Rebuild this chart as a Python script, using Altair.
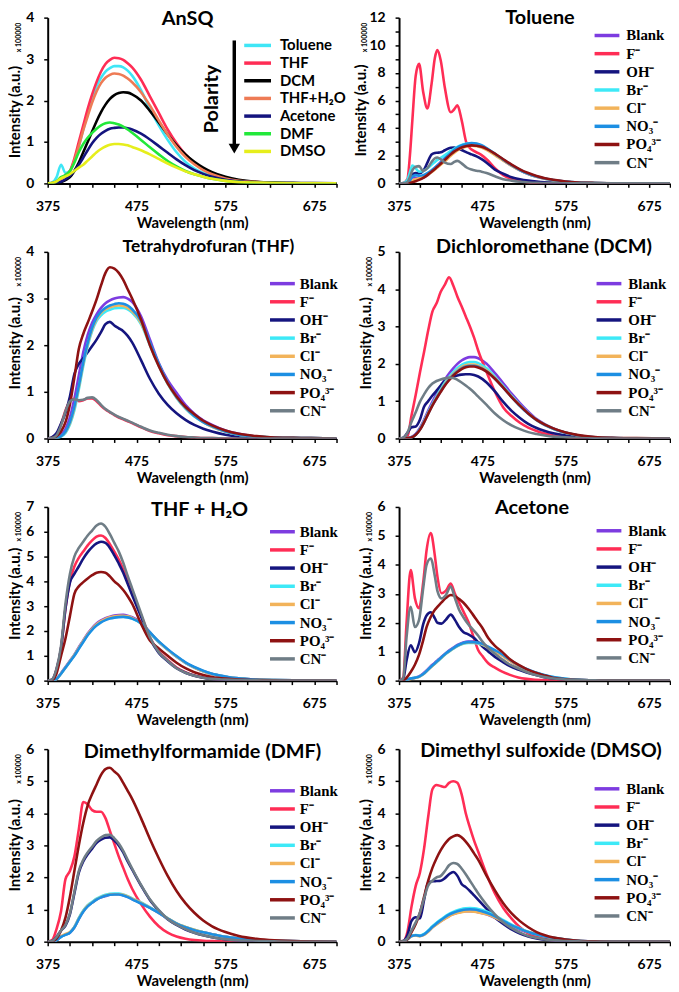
import altair as alt
import pandas as pd

# ---------------- wavelength grids (nm) ----------------
WL = [375, 380, 385, 390, 395, 400, 405, 410, 415, 420, 425, 430, 435, 440, 445, 450,
      455, 460, 465, 470, 480, 490, 500, 510, 520, 530, 540, 550, 560, 575, 590, 610,
      630, 660, 700]
WL_TOLUENE = [375, 380, 385, 388, 391, 395, 399, 404, 409, 414, 418, 421, 425, 430, 437,
              441, 445, 450, 456, 462, 468, 474, 480, 490, 500, 510, 520, 530, 540, 550,
              560, 575, 590, 610, 630, 660, 700]
WL_ACETONE = [375, 380, 384, 389, 394, 399, 404, 408, 413, 418, 421, 426, 431, 437, 442,
              447, 452, 458, 465, 470, 475, 482, 490, 498, 508, 518, 528, 538, 548, 558,
              575, 590, 610, 630, 660, 700]

# ---------------- series names / colours ----------------
SOLVENTS = ["Toluene", "THF", "DCM", "THF+H₂O", "Acetone", "DMF", "DMSO"]
SOLVENT_COLORS = ["#3FE6F6", "#FF2D55", "#000000", "#EE7B55", "#14147E", "#22E83A", "#E6EE1C"]
ANIONS = ["Blank", "F⁻", "OH⁻", "Br⁻", "Cl⁻", "NO₃⁻", "PO₄³⁻", "CN⁻"]
ANION_COLORS = ["#7D3CE0", "#FF2D55", "#15157F", "#3DE9F7", "#F2B35A", "#1C8FE3", "#8E1212", "#6F7D86"]

# ---------------- AnSQ in solvents (x 1e5) ----------------
ansq_toluene = [0, 0.02, 0.15, 0.45, 0.25, 0.3, 0.55, 0.9, 1.3, 1.7, 2.05, 2.35, 2.55, 2.7, 2.78, 2.83, 2.83, 2.8, 2.72, 2.6, 2.25, 1.8, 1.4, 1.05, 0.75, 0.52, 0.36, 0.25, 0.17, 0.09, 0.05, 0.02, 0.01, 0, 0]
ansq_thf = [0, 0.01, 0.05, 0.12, 0.2, 0.3, 0.6, 1.0, 1.4, 1.8, 2.15, 2.45, 2.7, 2.88, 2.98, 3.03, 3.02, 2.98, 2.9, 2.8, 2.5, 2.1, 1.7, 1.3, 0.97, 0.7, 0.5, 0.35, 0.24, 0.13, 0.07, 0.03, 0.01, 0, 0]
ansq_dcm = [0, 0, 0.01, 0.03, 0.08, 0.15, 0.3, 0.5, 0.75, 1.0, 1.25, 1.5, 1.72, 1.9, 2.04, 2.13, 2.18, 2.2, 2.19, 2.15, 2.0, 1.75, 1.47, 1.18, 0.92, 0.7, 0.52, 0.38, 0.27, 0.16, 0.09, 0.04, 0.02, 0.01, 0]
ansq_thf_h2o = [0, 0.01, 0.04, 0.1, 0.18, 0.28, 0.55, 0.9, 1.28, 1.62, 1.95, 2.22, 2.42, 2.55, 2.62, 2.65, 2.64, 2.6, 2.53, 2.44, 2.2, 1.88, 1.52, 1.18, 0.88, 0.64, 0.46, 0.32, 0.22, 0.12, 0.06, 0.03, 0.01, 0, 0]
ansq_acetone = [0, 0, 0.01, 0.04, 0.1, 0.18, 0.3, 0.45, 0.62, 0.8, 0.97, 1.1, 1.2, 1.27, 1.32, 1.34, 1.35, 1.35, 1.33, 1.3, 1.2, 1.06, 0.9, 0.74, 0.58, 0.44, 0.32, 0.23, 0.16, 0.09, 0.05, 0.02, 0.01, 0, 0]
ansq_dmf = [0, 0.01, 0.05, 0.15, 0.2, 0.3, 0.5, 0.75, 0.95, 1.1, 1.22, 1.32, 1.4, 1.45, 1.47, 1.45, 1.42, 1.37, 1.3, 1.22, 1.05, 0.87, 0.7, 0.54, 0.41, 0.3, 0.22, 0.16, 0.11, 0.06, 0.03, 0.01, 0.01, 0, 0]
ansq_dmso = [0, 0.01, 0.05, 0.12, 0.17, 0.22, 0.3, 0.38, 0.45, 0.55, 0.65, 0.75, 0.83, 0.89, 0.93, 0.95, 0.95, 0.94, 0.92, 0.88, 0.8, 0.7, 0.59, 0.48, 0.38, 0.29, 0.22, 0.16, 0.11, 0.06, 0.03, 0.02, 0.01, 0, 0]

# ---------------- Toluene + anions ----------------
tol_blank = [0, 0, 0.05, 0.2, 0.45, 0.4, 0.35, 0.4, 0.6, 0.85, 1.1, 1.3, 1.55, 1.85, 2.25, 2.45, 2.6, 2.75, 2.85, 2.88, 2.82, 2.7, 2.5, 2.1, 1.68, 1.28, 0.95, 0.68, 0.48, 0.33, 0.22, 0.12, 0.06, 0.02, 0.01, 0, 0]
tol_f = [0, 0.03, 0.3, 2.0, 4.6, 7.8, 8.65, 6.6, 5.42, 7.2, 9.1, 9.65, 8.9, 6.9, 5.15, 5.35, 5.65, 4.6, 2.9, 2.45, 2.25, 2.05, 1.75, 1.1, 0.6, 0.32, 0.15, 0.07, 0.03, 0.02, 0.01, 0, 0, 0, 0, 0, 0]
tol_oh = [0, 0.01, 0.1, 0.35, 0.65, 0.75, 0.72, 0.9, 1.5, 2.1, 2.2, 2.22, 2.25, 2.4, 2.58, 2.6, 2.52, 2.42, 2.25, 2.1, 1.95, 1.75, 1.5, 1.0, 0.7, 0.45, 0.3, 0.2, 0.13, 0.08, 0.05, 0.02, 0.01, 0, 0, 0, 0]
tol_br = [0, 0.02, 0.25, 0.8, 1.3, 1.1, 0.85, 0.9, 1.1, 1.35, 1.55, 1.7, 1.85, 2.05, 2.35, 2.5, 2.65, 2.78, 2.88, 2.9, 2.85, 2.72, 2.52, 2.12, 1.7, 1.3, 0.96, 0.69, 0.49, 0.34, 0.23, 0.12, 0.06, 0.02, 0.01, 0, 0]
tol_cl = [0, 0, 0.03, 0.1, 0.2, 0.3, 0.35, 0.45, 0.6, 0.8, 1.0, 1.15, 1.35, 1.6, 2.0, 2.2, 2.38, 2.55, 2.68, 2.72, 2.7, 2.6, 2.43, 2.05, 1.65, 1.27, 0.94, 0.68, 0.48, 0.33, 0.22, 0.12, 0.06, 0.02, 0.01, 0, 0]
tol_no3 = [0, 0, 0.05, 0.2, 0.5, 0.6, 0.55, 0.6, 0.75, 0.95, 1.15, 1.3, 1.5, 1.8, 2.2, 2.42, 2.6, 2.75, 2.86, 2.92, 2.88, 2.76, 2.56, 2.15, 1.72, 1.32, 0.97, 0.7, 0.5, 0.35, 0.24, 0.13, 0.06, 0.02, 0.01, 0, 0]
tol_po4 = [0, 0, 0.01, 0.03, 0.08, 0.15, 0.25, 0.4, 0.6, 0.85, 1.05, 1.2, 1.42, 1.7, 2.1, 2.3, 2.45, 2.6, 2.7, 2.75, 2.73, 2.65, 2.5, 2.15, 1.75, 1.36, 1.02, 0.75, 0.54, 0.38, 0.26, 0.14, 0.07, 0.03, 0.01, 0, 0]
tol_cn = [0, 0.01, 0.1, 0.45, 0.95, 1.2, 1.25, 0.9, 1.1, 1.55, 1.82, 1.88, 1.75, 1.5, 1.4, 1.55, 1.63, 1.45, 1.15, 1.0, 0.92, 0.85, 0.75, 0.52, 0.3, 0.2, 0.12, 0.07, 0.04, 0.03, 0.02, 0.01, 0, 0, 0, 0, 0]

# ---------------- THF + anions ----------------
thf_blank = [0, 0.01, 0.03, 0.08, 0.2, 0.45, 0.85, 1.35, 1.85, 2.22, 2.48, 2.66, 2.8, 2.9, 2.96, 3.0, 3.02, 3.03, 3.0, 2.93, 2.62, 2.12, 1.62, 1.25, 0.98, 0.72, 0.53, 0.39, 0.29, 0.17, 0.1, 0.04, 0.02, 0.01, 0]
thf_f = [0, 0.01, 0.08, 0.3, 0.6, 0.8, 0.85, 0.8, 0.82, 0.86, 0.86, 0.8, 0.7, 0.62, 0.56, 0.5, 0.45, 0.41, 0.37, 0.33, 0.24, 0.16, 0.11, 0.07, 0.05, 0.03, 0.02, 0.01, 0.01, 0, 0, 0, 0, 0, 0]
thf_oh = [0, 0.03, 0.12, 0.32, 0.55, 0.9, 1.38, 1.6, 1.72, 1.85, 1.98, 2.12, 2.28, 2.45, 2.5, 2.42, 2.36, 2.3, 2.2, 2.06, 1.68, 1.28, 0.96, 0.72, 0.54, 0.4, 0.29, 0.21, 0.15, 0.08, 0.04, 0.02, 0.01, 0, 0]
thf_br = [0, 0, 0.01, 0.04, 0.12, 0.3, 0.6, 1.05, 1.55, 1.98, 2.3, 2.52, 2.64, 2.72, 2.76, 2.79, 2.8, 2.8, 2.77, 2.7, 2.45, 2.0, 1.56, 1.17, 0.87, 0.64, 0.47, 0.35, 0.25, 0.15, 0.08, 0.04, 0.02, 0.01, 0]
thf_cl = [0, 0, 0.01, 0.05, 0.14, 0.33, 0.65, 1.1, 1.6, 2.02, 2.34, 2.56, 2.69, 2.77, 2.81, 2.84, 2.85, 2.84, 2.8, 2.73, 2.48, 2.03, 1.58, 1.18, 0.88, 0.65, 0.48, 0.35, 0.25, 0.15, 0.08, 0.04, 0.02, 0.01, 0]
thf_no3 = [0, 0, 0.01, 0.05, 0.15, 0.35, 0.68, 1.13, 1.63, 2.05, 2.37, 2.59, 2.72, 2.8, 2.85, 2.88, 2.9, 2.89, 2.85, 2.77, 2.52, 2.06, 1.6, 1.2, 0.89, 0.66, 0.48, 0.35, 0.26, 0.15, 0.08, 0.04, 0.02, 0.01, 0]
thf_po4 = [0, 0.01, 0.05, 0.15, 0.35, 0.73, 1.3, 1.92, 2.24, 2.48, 2.72, 2.98, 3.28, 3.55, 3.67, 3.64, 3.55, 3.4, 3.2, 3.0, 2.55, 2.0, 1.55, 1.18, 0.9, 0.68, 0.52, 0.38, 0.28, 0.17, 0.1, 0.05, 0.02, 0.01, 0]
thf_cn = [0, 0.01, 0.07, 0.28, 0.58, 0.8, 0.84, 0.82, 0.83, 0.87, 0.88, 0.82, 0.72, 0.63, 0.57, 0.51, 0.46, 0.42, 0.38, 0.34, 0.25, 0.17, 0.12, 0.08, 0.05, 0.03, 0.02, 0.01, 0.01, 0, 0, 0, 0, 0, 0]

# ---------------- DCM + anions ----------------
dcm_blank = [0, 0, 0.01, 0.04, 0.12, 0.28, 0.5, 0.75, 0.98, 1.2, 1.4, 1.58, 1.74, 1.88, 2.0, 2.09, 2.15, 2.18, 2.18, 2.15, 2.0, 1.75, 1.48, 1.2, 0.95, 0.72, 0.52, 0.38, 0.27, 0.15, 0.08, 0.03, 0.01, 0, 0]
dcm_f = [0, 0, 0.05, 0.62, 1.17, 1.76, 2.32, 2.9, 3.4, 3.62, 3.93, 4.12, 4.32, 4.1, 3.8, 3.54, 3.27, 3.0, 2.7, 2.35, 1.78, 1.25, 0.83, 0.6, 0.42, 0.29, 0.2, 0.13, 0.08, 0.04, 0.02, 0.01, 0, 0, 0]
dcm_oh = [0, 0.02, 0.15, 0.3, 0.32, 0.5, 0.85, 1.0, 1.15, 1.28, 1.42, 1.55, 1.62, 1.66, 1.69, 1.71, 1.72, 1.72, 1.7, 1.66, 1.5, 1.26, 0.98, 0.74, 0.55, 0.39, 0.28, 0.2, 0.14, 0.08, 0.04, 0.02, 0.01, 0, 0]
dcm_br = [0, 0, 0.01, 0.03, 0.1, 0.25, 0.46, 0.7, 0.92, 1.13, 1.32, 1.5, 1.65, 1.78, 1.89, 1.97, 2.02, 2.05, 2.05, 2.02, 1.88, 1.65, 1.4, 1.14, 0.9, 0.68, 0.5, 0.37, 0.26, 0.15, 0.08, 0.03, 0.01, 0, 0]
dcm_cl = [0, 0, 0.01, 0.03, 0.1, 0.24, 0.45, 0.68, 0.9, 1.1, 1.29, 1.46, 1.61, 1.73, 1.83, 1.91, 1.96, 1.98, 1.98, 1.95, 1.83, 1.62, 1.37, 1.12, 0.88, 0.67, 0.49, 0.36, 0.26, 0.15, 0.08, 0.03, 0.01, 0, 0]
dcm_no3 = [0, 0, 0.01, 0.03, 0.1, 0.24, 0.44, 0.67, 0.89, 1.08, 1.27, 1.44, 1.58, 1.7, 1.8, 1.88, 1.93, 1.95, 1.95, 1.92, 1.8, 1.6, 1.36, 1.11, 0.87, 0.66, 0.49, 0.36, 0.26, 0.15, 0.08, 0.03, 0.01, 0, 0]
dcm_po4 = [0, 0, 0.01, 0.03, 0.1, 0.23, 0.43, 0.66, 0.88, 1.07, 1.25, 1.42, 1.56, 1.68, 1.78, 1.86, 1.91, 1.93, 1.93, 1.9, 1.79, 1.6, 1.36, 1.11, 0.88, 0.67, 0.5, 0.37, 0.27, 0.16, 0.09, 0.04, 0.02, 0.01, 0]
dcm_cn = [0, 0.02, 0.15, 0.45, 0.7, 0.98, 1.18, 1.35, 1.47, 1.54, 1.58, 1.61, 1.63, 1.62, 1.57, 1.5, 1.42, 1.33, 1.23, 1.12, 0.9, 0.67, 0.49, 0.35, 0.25, 0.17, 0.12, 0.08, 0.05, 0.03, 0.01, 0, 0, 0, 0]

# ---------------- THF + H2O + anions ----------------
aq_blank = [0, 0.01, 0.08, 0.3, 0.55, 0.8, 1.05, 1.35, 1.62, 1.9, 2.12, 2.3, 2.43, 2.52, 2.58, 2.62, 2.64, 2.65, 2.62, 2.56, 2.35, 1.95, 1.55, 1.25, 0.96, 0.72, 0.53, 0.38, 0.27, 0.16, 0.09, 0.04, 0.02, 0.01, 0]
aq_f = [0, 0.04, 0.45, 1.3, 2.9, 4.0, 4.6, 4.95, 5.2, 5.45, 5.65, 5.8, 5.85, 5.75, 5.5, 5.2, 4.88, 4.48, 4.0, 3.55, 2.65, 1.75, 1.18, 0.83, 0.53, 0.34, 0.21, 0.13, 0.08, 0.04, 0.02, 0.01, 0, 0, 0]
aq_oh = [0, 0.04, 0.45, 1.3, 2.9, 3.95, 4.3, 4.6, 4.92, 5.18, 5.38, 5.53, 5.6, 5.55, 5.35, 5.05, 4.72, 4.35, 3.9, 3.45, 2.58, 1.7, 1.12, 0.78, 0.5, 0.32, 0.2, 0.12, 0.07, 0.04, 0.02, 0.01, 0, 0, 0]
aq_br = [0, 0.01, 0.07, 0.28, 0.52, 0.77, 1.02, 1.3, 1.58, 1.85, 2.07, 2.24, 2.37, 2.46, 2.52, 2.56, 2.58, 2.58, 2.56, 2.5, 2.3, 1.92, 1.55, 1.24, 0.96, 0.72, 0.53, 0.38, 0.27, 0.16, 0.09, 0.04, 0.02, 0.01, 0]
aq_cl = [0, 0.01, 0.07, 0.29, 0.53, 0.78, 1.03, 1.32, 1.6, 1.87, 2.09, 2.27, 2.4, 2.49, 2.55, 2.59, 2.61, 2.61, 2.59, 2.53, 2.32, 1.94, 1.57, 1.25, 0.97, 0.72, 0.53, 0.38, 0.27, 0.16, 0.09, 0.04, 0.02, 0.01, 0]
aq_no3 = [0, 0.01, 0.07, 0.28, 0.52, 0.76, 1.0, 1.28, 1.56, 1.83, 2.05, 2.22, 2.35, 2.44, 2.5, 2.54, 2.56, 2.57, 2.55, 2.5, 2.31, 1.95, 1.58, 1.27, 0.99, 0.74, 0.55, 0.4, 0.28, 0.17, 0.09, 0.04, 0.02, 0.01, 0]
aq_po4 = [0, 0.02, 0.3, 1.0, 1.7, 2.6, 3.5, 3.8, 3.97, 4.12, 4.25, 4.35, 4.38, 4.35, 4.2, 4.0, 3.85, 3.65, 3.4, 3.1, 2.3, 1.62, 1.3, 1.0, 0.72, 0.5, 0.34, 0.23, 0.15, 0.08, 0.04, 0.02, 0.01, 0, 0]
aq_cn = [0, 0.05, 0.5, 1.4, 3.1, 4.3, 5.0, 5.35, 5.6, 5.85, 6.05, 6.25, 6.33, 6.2, 5.9, 5.55, 5.2, 4.75, 4.22, 3.72, 2.72, 1.75, 1.15, 0.8, 0.5, 0.32, 0.2, 0.12, 0.07, 0.04, 0.02, 0.01, 0, 0, 0]

# ---------------- Acetone + anions ----------------
ace_blank = [0, 0, 0.03, 0.07, 0.1, 0.15, 0.25, 0.35, 0.5, 0.62, 0.7, 0.83, 0.95, 1.08, 1.18, 1.26, 1.32, 1.35, 1.35, 1.32, 1.27, 1.15, 1.02, 0.89, 0.69, 0.5, 0.36, 0.26, 0.18, 0.12, 0.05, 0.02, 0.01, 0, 0, 0]
ace_f = [0, 0.1, 2.0, 3.82, 2.85, 2.5, 3.4, 4.5, 5.1, 4.3, 3.6, 3.02, 3.1, 3.35, 3.0, 2.7, 2.4, 2.04, 1.45, 1.05, 0.85, 0.6, 0.45, 0.32, 0.2, 0.11, 0.06, 0.03, 0.02, 0.01, 0, 0, 0, 0, 0, 0]
ace_oh = [0, 0.05, 0.7, 1.22, 0.98, 1.3, 1.95, 2.25, 2.36, 2.15, 2.0, 1.97, 2.1, 2.28, 2.1, 1.85, 1.68, 1.6, 1.47, 1.32, 1.18, 1.01, 0.82, 0.67, 0.5, 0.38, 0.28, 0.2, 0.13, 0.08, 0.04, 0.02, 0.01, 0, 0, 0]
ace_br = [0, 0, 0.03, 0.08, 0.1, 0.13, 0.22, 0.32, 0.46, 0.58, 0.66, 0.79, 0.92, 1.04, 1.14, 1.22, 1.27, 1.3, 1.3, 1.28, 1.24, 1.14, 1.02, 0.9, 0.71, 0.53, 0.39, 0.28, 0.2, 0.13, 0.06, 0.03, 0.01, 0, 0, 0]
ace_cl = [0, 0, 0.02, 0.06, 0.09, 0.13, 0.22, 0.32, 0.46, 0.59, 0.67, 0.8, 0.93, 1.05, 1.15, 1.23, 1.29, 1.32, 1.32, 1.3, 1.25, 1.14, 1.01, 0.88, 0.68, 0.51, 0.37, 0.27, 0.19, 0.12, 0.05, 0.02, 0.01, 0, 0, 0]
ace_no3 = [0, 0, 0.02, 0.07, 0.1, 0.14, 0.23, 0.33, 0.47, 0.6, 0.68, 0.81, 0.94, 1.06, 1.16, 1.24, 1.3, 1.33, 1.33, 1.31, 1.27, 1.17, 1.05, 0.92, 0.72, 0.54, 0.4, 0.29, 0.2, 0.13, 0.06, 0.03, 0.01, 0, 0, 0]
ace_po4 = [0, 0.01, 0.1, 0.3, 0.55, 0.9, 1.4, 1.85, 2.2, 2.45, 2.55, 2.7, 2.85, 2.96, 2.92, 2.82, 2.7, 2.5, 2.22, 2.02, 1.82, 1.47, 1.2, 1.01, 0.74, 0.55, 0.4, 0.28, 0.19, 0.11, 0.05, 0.02, 0.01, 0, 0, 0]
ace_cn = [0, 0.08, 1.5, 2.55, 1.85, 2.1, 3.2, 4.0, 4.22, 3.6, 3.1, 2.84, 2.95, 3.25, 2.85, 2.45, 2.2, 1.95, 1.72, 1.55, 1.35, 1.12, 0.93, 0.75, 0.55, 0.42, 0.3, 0.2, 0.13, 0.08, 0.04, 0.02, 0.01, 0, 0, 0]

# ---------------- DMF + anions ----------------
dmf_blank = [0, 0.01, 0.05, 0.15, 0.22, 0.28, 0.45, 0.72, 0.95, 1.12, 1.22, 1.32, 1.38, 1.42, 1.46, 1.48, 1.48, 1.45, 1.4, 1.33, 1.2, 1.06, 0.9, 0.72, 0.56, 0.45, 0.36, 0.29, 0.23, 0.15, 0.1, 0.05, 0.03, 0.01, 0]
dmf_f = [0, 0.05, 0.4, 0.95, 1.95, 2.2, 2.65, 3.5, 4.35, 4.28, 4.1, 4.05, 4.05, 3.85, 3.45, 3.05, 2.65, 2.3, 1.95, 1.65, 1.17, 0.78, 0.48, 0.28, 0.16, 0.09, 0.05, 0.03, 0.02, 0.01, 0, 0, 0, 0, 0]
dmf_oh = [0, 0.02, 0.15, 0.35, 0.5, 0.85, 1.5, 2.15, 2.5, 2.72, 2.9, 3.08, 3.18, 3.24, 3.25, 3.15, 3.0, 2.78, 2.5, 2.25, 1.75, 1.3, 0.97, 0.7, 0.52, 0.38, 0.28, 0.2, 0.14, 0.08, 0.04, 0.02, 0.01, 0, 0]
dmf_br = [0, 0.01, 0.05, 0.15, 0.22, 0.29, 0.46, 0.74, 0.97, 1.14, 1.24, 1.34, 1.41, 1.46, 1.49, 1.5, 1.5, 1.47, 1.42, 1.35, 1.22, 1.07, 0.91, 0.73, 0.57, 0.46, 0.37, 0.29, 0.23, 0.15, 0.1, 0.05, 0.03, 0.01, 0]
dmf_cl = [0, 0.01, 0.06, 0.17, 0.24, 0.3, 0.45, 0.72, 0.95, 1.12, 1.22, 1.32, 1.39, 1.44, 1.47, 1.48, 1.48, 1.46, 1.41, 1.34, 1.21, 1.06, 0.9, 0.73, 0.57, 0.46, 0.37, 0.29, 0.23, 0.15, 0.1, 0.05, 0.03, 0.01, 0]
dmf_no3 = [0, 0.01, 0.05, 0.15, 0.21, 0.28, 0.44, 0.7, 0.93, 1.1, 1.21, 1.31, 1.38, 1.43, 1.46, 1.47, 1.47, 1.44, 1.39, 1.32, 1.19, 1.05, 0.9, 0.72, 0.56, 0.45, 0.36, 0.29, 0.23, 0.15, 0.1, 0.05, 0.03, 0.01, 0]
dmf_po4 = [0, 0.01, 0.1, 0.35, 0.75, 1.4, 2.2, 3.0, 3.7, 4.25, 4.6, 4.9, 5.2, 5.38, 5.42, 5.3, 5.18, 4.95, 4.7, 4.45, 3.85, 3.2, 2.6, 2.05, 1.58, 1.2, 0.9, 0.66, 0.48, 0.3, 0.18, 0.09, 0.04, 0.01, 0]
dmf_cn = [0, 0.02, 0.15, 0.35, 0.52, 0.88, 1.55, 2.2, 2.55, 2.78, 2.96, 3.14, 3.25, 3.32, 3.33, 3.22, 3.06, 2.83, 2.55, 2.28, 1.77, 1.32, 0.98, 0.71, 0.53, 0.39, 0.28, 0.2, 0.14, 0.08, 0.04, 0.02, 0.01, 0, 0]

# ---------------- DMSO + anions ----------------
dmso_blank = [0, 0.01, 0.08, 0.18, 0.2, 0.18, 0.22, 0.32, 0.45, 0.55, 0.64, 0.72, 0.8, 0.86, 0.9, 0.93, 0.95, 0.95, 0.94, 0.92, 0.85, 0.74, 0.6, 0.48, 0.37, 0.28, 0.21, 0.15, 0.11, 0.06, 0.03, 0.01, 0, 0, 0]
dmso_f = [0, 0.02, 0.3, 1.1, 1.74, 2.15, 2.9, 3.9, 4.75, 4.88, 4.85, 4.82, 4.95, 5.0, 4.95, 4.6, 4.0, 3.55, 3.15, 2.8, 2.1, 1.5, 1.05, 0.72, 0.45, 0.26, 0.15, 0.08, 0.04, 0.02, 0.01, 0, 0, 0, 0]
dmso_oh = [0, 0.02, 0.2, 0.65, 0.76, 0.72, 1.3, 1.85, 1.88, 1.89, 1.9, 1.98, 2.1, 2.17, 2.05, 1.8, 1.7, 1.58, 1.44, 1.3, 1.02, 0.75, 0.55, 0.38, 0.25, 0.16, 0.1, 0.06, 0.04, 0.02, 0.01, 0, 0, 0, 0]
dmso_br = [0, 0.01, 0.08, 0.19, 0.21, 0.19, 0.24, 0.35, 0.48, 0.59, 0.69, 0.78, 0.87, 0.93, 0.98, 1.02, 1.04, 1.05, 1.04, 1.02, 0.94, 0.82, 0.67, 0.53, 0.41, 0.31, 0.23, 0.17, 0.12, 0.07, 0.03, 0.01, 0, 0, 0]
dmso_cl = [0, 0.01, 0.07, 0.17, 0.19, 0.17, 0.21, 0.31, 0.44, 0.54, 0.63, 0.71, 0.79, 0.85, 0.89, 0.92, 0.94, 0.94, 0.93, 0.91, 0.85, 0.75, 0.62, 0.5, 0.39, 0.3, 0.22, 0.16, 0.12, 0.07, 0.03, 0.01, 0, 0, 0]
dmso_no3 = [0, 0.01, 0.08, 0.18, 0.2, 0.18, 0.23, 0.33, 0.46, 0.57, 0.67, 0.76, 0.84, 0.9, 0.95, 0.98, 1.0, 1.01, 1.0, 0.98, 0.9, 0.79, 0.65, 0.51, 0.4, 0.3, 0.22, 0.16, 0.12, 0.07, 0.03, 0.01, 0, 0, 0]
dmso_po4 = [0, 0.01, 0.08, 0.3, 0.55, 0.9, 1.4, 1.9, 2.3, 2.6, 2.85, 3.05, 3.2, 3.28, 3.32, 3.25, 3.12, 2.95, 2.75, 2.55, 2.05, 1.6, 1.2, 0.88, 0.64, 0.45, 0.3, 0.2, 0.13, 0.07, 0.03, 0.01, 0, 0, 0]
dmso_cn = [0, 0.01, 0.1, 0.35, 0.6, 0.9, 1.35, 1.75, 1.9, 2.0, 2.05, 2.2, 2.38, 2.45, 2.42, 2.28, 2.1, 1.9, 1.7, 1.5, 1.15, 0.85, 0.6, 0.42, 0.28, 0.18, 0.12, 0.07, 0.04, 0.02, 0.01, 0, 0, 0, 0]

FONT = "Lato"
LEFT_W, RIGHT_W = 291, 273
ROW_H = [167, 188, 175, 194]


def text_layer(txt, x, y, size, angle=0, font=FONT, weight="bold"):
    df = pd.DataFrame({"t": [txt]})
    kw = dict(font=font, fontWeight=weight, fontSize=size, align="center",
              baseline="middle", color="black")
    if angle:
        kw["angle"] = angle
    return alt.Chart(df).mark_text(**kw).encode(
        text="t:N", x=alt.value(x), y=alt.value(y))


def panel(wl, names, colors, series, title, title_xy, ymax, ystep, width, height,
          legend_pos, legend_font="Liberation Serif", legend_gap=18.3, ylab_x=-33,
          ylab_frac=0.5, title_size=20, extras=()):
    for s in series:
        assert len(s) == len(wl), (title, len(s), len(wl))
    rows = [{"wl": w, "I": v, "s": n}
            for n, s in zip(names, series) for w, v in zip(wl, s)]
    df = pd.DataFrame(rows)
    xticks = list(range(375, 701, 25))
    nminor = int(round(ymax / ystep * 2))
    yticks = [i * ystep / 2 for i in range(nminor + 1)]
    cscale = alt.Scale(domain=names, range=colors)
    lines = alt.Chart(df).mark_line(strokeWidth=2.6, interpolate="monotone", clip=True).encode(
        x=alt.X("wl:Q", scale=alt.Scale(domain=[375, 700], nice=False, zero=False),
                axis=alt.Axis(values=xticks, format="d",
                              labelExpr="(datum.value - 375) % 100 === 0 && datum.value < 700 ? datum.label : ''",
                              title="Wavelength (nm)", titleFont=FONT, titleFontWeight="bold",
                              titleFontSize=15, titleColor="black", titlePadding=2,
                              labelFont=FONT, labelFontWeight="bold", labelFontSize=14,
                              labelColor="black", labelPadding=12, labelFlush=False,
                              labelOverlap=False, grid=False, domainColor="black",
                              domainWidth=2, tickColor="black", tickWidth=1.5, tickSize=4)),
        y=alt.Y("I:Q", scale=alt.Scale(domain=[0, ymax], nice=False),
                axis=alt.Axis(values=yticks, format="d",
                              labelExpr=f"datum.value % {ystep} === 0 ? datum.label : ''",
                              title=None, labelFont=FONT, labelFontWeight="bold",
                              labelFontSize=14, labelColor="black", labelPadding=10,
                              labelFlush=False, labelOverlap=False, grid=False,
                              domainColor="black", domainWidth=2, tickColor="black",
                              tickWidth=1.5, tickSize=4)),
        color=alt.Color("s:N", scale=cscale, sort=names, legend=None),
    )
    # hand-drawn legend (entries stacked from the legend origin)
    lx, ly0, sym_len, lab_dx = legend_pos
    leg = alt.Chart(pd.DataFrame({"s": names})).transform_window(
        idx="row_number()").transform_calculate(
        ly=f"{ly0} + (datum.idx - 1) * {legend_gap}")
    yenc = alt.Y("ly:Q", scale=alt.Scale(domain=[0, height], range=[0, height], nice=False,
                                         zero=False), axis=None)
    leg_sym = leg.mark_rule(strokeWidth=3.5).encode(
        x=alt.value(lx), x2=alt.value(lx + sym_len), y=yenc,
        color=alt.Color("s:N", scale=cscale, sort=names, legend=None))
    leg_lab = leg.mark_text(align="left", baseline="middle", font=legend_font,
                            fontWeight="bold", fontSize=15, color="black").encode(
        x=alt.value(lx + lab_dx), y=yenc, text="s:N")
    layers = [lines, leg_sym, leg_lab,
              text_layer(title, title_xy[0], title_xy[1], title_size),
              text_layer("Intensity (a.u.)", ylab_x, height * ylab_frac, 15, angle=270),
              text_layer("x 100000", ylab_x + 4, 20, 7, angle=270)]
    layers += list(extras)
    return alt.layer(*layers).resolve_scale(y="independent").properties(
        width=width, height=height)


one = pd.DataFrame({"k": [0]})
arrow_line = alt.Chart(one).mark_rule(strokeWidth=3.5, color="black").encode(
    x=alt.value(188), y=alt.value(23), y2=alt.value(128))
arrow_head = alt.Chart(one).mark_point(shape="triangle-down", filled=True, size=130,
                                        color="black", opacity=1).encode(
    x=alt.value(188), y=alt.value(132))
polarity = text_layer("Polarity", 166, 82, 20, angle=270)

p_ansq = panel(WL, SOLVENTS, SOLVENT_COLORS,
               [ansq_toluene, ansq_thf, ansq_dcm, ansq_thf_h2o, ansq_acetone, ansq_dmf, ansq_dmso],
               "AnSQ", (141, 1), 4, 1, LEFT_W, ROW_H[0], (198, 28, 27, 36), legend_font=FONT,
               legend_gap=17.8, ylab_frac=0.57, extras=(arrow_line, arrow_head, polarity))
p_tol = panel(WL_TOLUENE, ANIONS, ANION_COLORS,
              [tol_blank, tol_f, tol_oh, tol_br, tol_cl, tol_no3, tol_po4, tol_cn],
              "Toluene", (142, 0), 12, 2, RIGHT_W, ROW_H[0], (197, 18, 25, 32), ylab_x=-38,
              ylab_frac=0.56)
p_thf = panel(WL, ANIONS, ANION_COLORS,
              [thf_blank, thf_f, thf_oh, thf_br, thf_cl, thf_no3, thf_po4, thf_cn],
              "Tetrahydrofuran (THF)", (162, -5), 4, 1, LEFT_W, ROW_H[1], (224, 32, 25, 30),
              ylab_frac=0.49, title_size=17.5)
p_dcm = panel(WL, ANIONS, ANION_COLORS,
              [dcm_blank, dcm_f, dcm_oh, dcm_br, dcm_cl, dcm_no3, dcm_po4, dcm_cn],
              "Dichloromethane (DCM)", (146, -5), 5, 1, RIGHT_W, ROW_H[1], (199, 32, 25, 32),
              ylab_frac=0.49)
p_aq = panel(WL, ANIONS, ANION_COLORS,
             [aq_blank, aq_f, aq_oh, aq_br, aq_cl, aq_no3, aq_po4, aq_cn],
             "THF + H₂O", (153, 3), 7, 1, LEFT_W, ROW_H[2], (224, 25, 25, 30), ylab_frac=0.5)
p_ace = panel(WL_ACETONE, ANIONS, ANION_COLORS,
              [ace_blank, ace_f, ace_oh, ace_br, ace_cl, ace_no3, ace_po4, ace_cn],
              "Acetone", (134, 1), 6, 1, RIGHT_W, ROW_H[2], (199, 24, 25, 32), ylab_frac=0.5)
p_dmf = panel(WL, ANIONS, ANION_COLORS,
              [dmf_blank, dmf_f, dmf_oh, dmf_br, dmf_cl, dmf_no3, dmf_po4, dmf_cn],
              "Dimethylformamide (DMF)", (156, 3), 6, 1, LEFT_W, ROW_H[3], (224, 42, 25, 30),
              ylab_frac=0.5)
p_dmso = panel(WL, ANIONS, ANION_COLORS,
               [dmso_blank, dmso_f, dmso_oh, dmso_br, dmso_cl, dmso_no3, dmso_po4, dmso_cn],
               "Dimethyl sulfoxide (DMSO)", (143, 2), 6, 1, RIGHT_W, ROW_H[3], (197, 40, 25, 32),
               ylab_frac=0.5)

chart = alt.concat(p_ansq, p_tol, p_thf, p_dcm, p_aq, p_ace, p_dmf, p_dmso,
                   columns=2, spacing={"row": 69, "column": 63}, bounds="flush",
                   align="each").resolve_scale(
    x="independent", y="independent", color="independent").properties(
    padding={"left": 0, "top": -4, "right": 0, "bottom": 0}
).configure_view(stroke=None)

chart.save("out.html", embed_options={"renderer": "svg", "actions": False})
